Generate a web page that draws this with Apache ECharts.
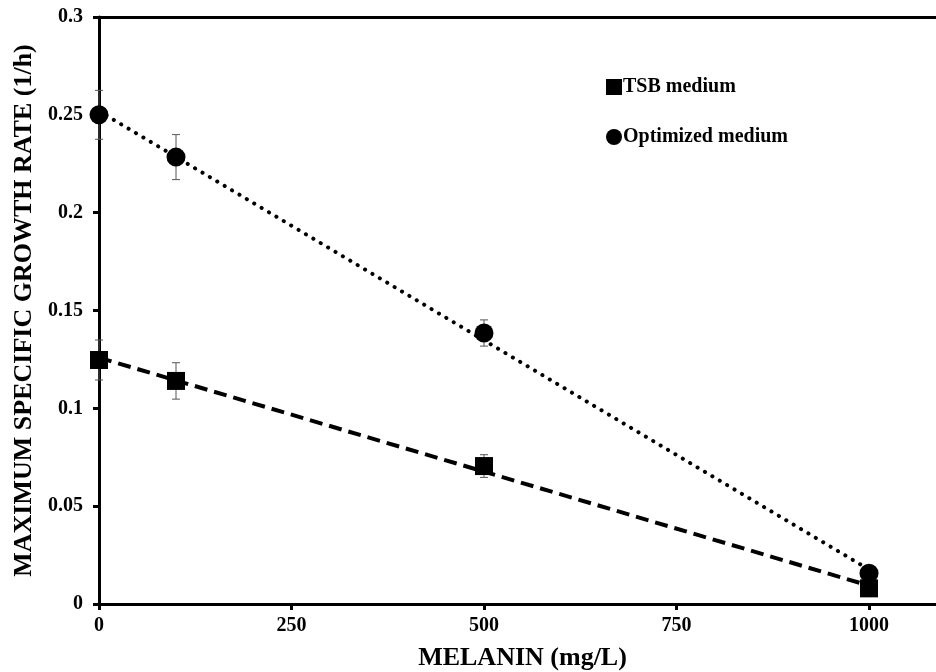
<!DOCTYPE html>
<html>
<head>
<meta charset="utf-8">
<script src="https://cdn.jsdelivr.net/npm/echarts@6/dist/echarts.min.js"></script>
<style>
  html, body { margin: 0; padding: 0; background: #fff; }
  #chart { width: 936px; height: 672px; }
</style>
</head>
<body>
<div id="chart"></div>
<script>
// Melanin concentration (mg/L)
const melanin = [0, 100, 500, 1000];

// Maximum specific growth rate (1/h) and standard deviations
const tsbRate = [0.1247, 0.114, 0.0705, 0.008];
const tsbErr = [0.0102, 0.0093, 0.0058, 0.0];
const optRate = [0.25, 0.2284, 0.1385, 0.0157];
const optErr = [0.0125, 0.0115, 0.0067, 0.0];

// Linear trend lines (end points at 0 and 1000 mg/L)
const trendX = [0, 1000];
const tsbTrend = [0.1259, 0.0094];
const optTrend = [0.2519, 0.0176];

const xTicks = [0, 250, 500, 750, 1000];
const yTicks = [0, 0.05, 0.1, 0.15, 0.2, 0.25, 0.3];

const serif = '"Liberation Serif", "Times New Roman", serif';

function pairs(xs, ys) { return xs.map((x, i) => [x, ys[i]]); }
function errData(xs, ys, es) { return xs.map((x, i) => [x, ys[i] - es[i], ys[i] + es[i]]); }

function errorBars(params, api) {
  if (api.value(2) - api.value(1) <= 0) return;
  const lo = api.coord([api.value(0), api.value(1)]);
  const hi = api.coord([api.value(0), api.value(2)]);
  const half = 4;
  const style = { stroke: '#555', lineWidth: 1, fill: null };
  return {
    type: 'group',
    children: [
      { type: 'line', shape: { x1: hi[0], y1: hi[1], x2: lo[0], y2: lo[1] }, style },
      { type: 'line', shape: { x1: hi[0] - half, y1: hi[1], x2: hi[0] + half, y2: hi[1] }, style },
      { type: 'line', shape: { x1: lo[0] - half, y1: lo[1], x2: lo[0] + half, y2: lo[1] }, style }
    ]
  };
}

const chart = echarts.init(document.getElementById('chart'));
chart.setOption({
  animation: false,
  backgroundColor: '#fff',
  grid: { left: 99, right: 0, top: 17, bottom: 68, containLabel: false, outerBoundsMode: 'none' },
  legend: {
    orient: 'vertical',
    left: 606,
    top: 77,
    padding: 0,
    itemGap: 30,
    itemWidth: 16,
    itemHeight: 16,
    textStyle: { fontFamily: serif, fontWeight: 'bold', fontSize: 20, color: '#000', padding: [0, 0, 0, -4] },
    data: [
      { name: 'TSB medium', icon: 'rect' },
      { name: 'Optimized medium', icon: 'circle' }
    ]
  },
  xAxis: [{
    type: 'value',
    min: 0,
    max: 1087,
    interval: 250,
    name: 'MELANIN (mg/L)',
    nameLocation: 'middle',
    nameGap: 41,
    nameTextStyle: { fontFamily: serif, fontWeight: 'bold', fontSize: 26, color: '#000', padding: [0, 0, 0, 10] },
    axisLine: { onZero: false, lineStyle: { color: '#000', width: 3 } },
    axisTick: { show: true, length: 6, lineStyle: { color: '#000', width: 3 },
      customValues: xTicks },
    axisLabel: { fontFamily: serif, fontWeight: 'bold', fontSize: 20, color: '#000', margin: 12,
      customValues: xTicks, formatter: v => String(v) },
    splitLine: { show: false }
  }, {
    type: 'value',
    position: 'top',
    min: 0,
    max: 1087,
    axisLine: { show: true, onZero: false, lineStyle: { color: '#000', width: 3 } },
    axisTick: { show: false },
    axisLabel: { show: false },
    splitLine: { show: false }
  }],
  yAxis: {
    type: 'value',
    min: 0,
    max: 0.3,
    interval: 0.05,
    name: 'MAXIMUM SPECIFIC GROWTH RATE (1/h)',
    nameLocation: 'middle',
    nameGap: 62,
    nameTextStyle: { fontFamily: serif, fontWeight: 'bold', fontSize: 26, color: '#000' },
    axisLine: { onZero: false, lineStyle: { color: '#000', width: 3 } },
    axisTick: { show: true, length: 6, lineStyle: { color: '#000', width: 3 } },
    axisLabel: { fontFamily: serif, fontWeight: 'bold', fontSize: 20, color: '#000', margin: 16,
      formatter: v => {
        const t = yTicks.find(k => Math.abs(k - v) < 1e-9);
        return t === undefined ? '' : String(t);
      } },
    splitLine: { show: false }
  },
  series: [
    {
      name: 'TSB trend',
      type: 'line',
      data: pairs(trendX, tsbTrend),
      symbol: 'none',
      lineStyle: { color: '#000', width: 4, type: [13, 7] },
      z: 2,
      silent: true
    },
    {
      name: 'Optimized trend',
      type: 'line',
      data: pairs(trendX, optTrend),
      symbol: 'none',
      lineStyle: { color: '#000', width: 4, type: [0.1, 8.5], cap: 'round' },
      z: 2,
      silent: true
    },
    {
      name: 'TSB error',
      type: 'custom',
      renderItem: errorBars,
      data: errData(melanin, tsbRate, tsbErr),
      encode: { x: 0, y: [1, 2] },
      z: 3,
      silent: true
    },
    {
      name: 'Optimized error',
      type: 'custom',
      renderItem: errorBars,
      data: errData(melanin, optRate, optErr),
      encode: { x: 0, y: [1, 2] },
      z: 3,
      silent: true
    },
    {
      name: 'TSB medium',
      type: 'scatter',
      data: pairs(melanin, tsbRate),
      symbol: 'rect',
      symbolSize: 18,
      itemStyle: { color: '#000', opacity: 1, borderRadius: 2 },
      z: 4
    },
    {
      name: 'Optimized medium',
      type: 'scatter',
      data: pairs(melanin, optRate),
      symbol: 'circle',
      symbolSize: 19,
      itemStyle: { color: '#000', opacity: 1 },
      z: 5
    }
  ]
});
</script>
</body>
</html>
